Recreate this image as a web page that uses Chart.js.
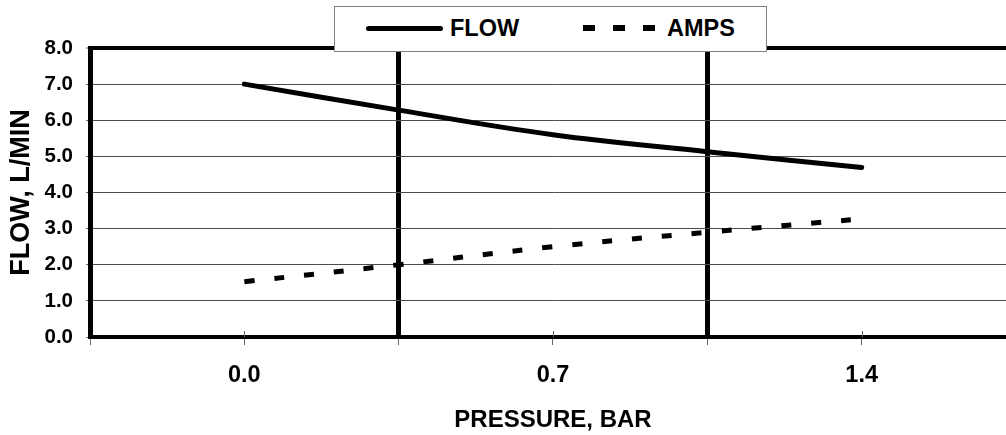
<!DOCTYPE html>
<html>
<head>
<meta charset="utf-8">
<script src="https://cdn.jsdelivr.net/npm/chart.js@4.4.1/dist/chart.umd.min.js"></script>
<style>
  html, body { margin: 0; padding: 0; background: #fff; overflow: hidden; width: 1006px; height: 435px; }
  #wrap { position: relative; width: 1040px; height: 435px; }
  #legend { position: absolute; left: 334px; top: 6px; width: 431px; height: 44px; border: 1px solid #808080; background: #fff; z-index: 2; font-family: "Liberation Sans", Arial, sans-serif; font-weight: bold; font-size: 23.5px; color: #000; }
  #legend .label { position: absolute; top: 0; line-height: 43px; white-space: nowrap; }
  #legend .solid { position: absolute; height: 5px; background: #000; border-radius: 3px; }
  #legend .dash { position: absolute; height: 6px; background: #000; }
</style>
</head>
<body>
<div id="wrap">
  <canvas id="c" width="1040" height="435"></canvas>
  <div id="legend"></div>
</div>
<script>
// ---- data ----
const pressure = [0.0, 0.35, 0.7, 1.05, 1.4];
const flow = [7.0, 6.28, 5.6, 5.13, 4.69];
const amps = [1.53, 2.0, 2.5, 2.9, 3.27];
const seriesNames = ['FLOW', 'AMPS'];
const xTickValues = [-0.35, 0.0, 0.35, 0.7, 1.05, 1.4];
const xTickLabels = ['', '0.0', '', '0.7', '', '1.4'];
const xBoundaryValues = [0.35, 1.05];
const yMin = 0, yMax = 8, yStep = 1;
const xTitle = 'PRESSURE, BAR';
const yTitle = 'FLOW, L/MIN';

const FONT = '"Liberation Sans", Arial, sans-serif';
const near = (a, b) => Math.abs(a - b) < 1e-6;
const isBoundary = v => xBoundaryValues.some(b => near(b, v));
const isLabelled = (v) => { const i = xTickValues.findIndex(t => near(t, v)); return i >= 0 && xTickLabels[i] !== ''; };

// crossing tick marks on labelled x ticks (inner half)
const crossTicks = {
  id: 'crossTicks',
  afterDatasetsDraw(chart) {
    const x = chart.scales.x, ctx = chart.ctx, b = chart.chartArea.bottom;
    ctx.save();
    ctx.strokeStyle = '#666';
    ctx.lineWidth = 1;
    x.ticks.forEach(t => {
      if (isLabelled(t.value)) {
        const px = Math.round(x.getPixelForValue(t.value)) + 0.5;
        ctx.beginPath(); ctx.moveTo(px, b - 6); ctx.lineTo(px, b); ctx.stroke();
      }
    });
    ctx.restore();
  }
};

const chart = new Chart(document.getElementById('c'), {
  type: 'line',
  data: {
    datasets: [
      {
        label: seriesNames[0],
        data: pressure.map((p, i) => ({ x: p, y: flow[i] })),
        borderColor: '#000', borderWidth: 5, borderCapStyle: 'round',
        pointRadius: 0, tension: 0.4, fill: false
      },
      {
        label: seriesNames[1],
        data: pressure.map((p, i) => ({ x: p, y: amps[i] })),
        borderColor: '#000', borderWidth: 5, borderDash: [10, 20], borderCapStyle: 'butt',
        pointRadius: 0, tension: 0.4, fill: false
      }
    ]
  },
  options: {
    responsive: false,
    animation: false,
    devicePixelRatio: 1,
    layout: { padding: { top: 48, left: 0, right: 24, bottom: 0 } },
    plugins: { legend: { display: false }, tooltip: { enabled: false } },
    scales: {
      x: {
        type: 'linear',
        min: xTickValues[0],
        max: 1.75,
        afterBuildTicks: s => { s.ticks = xTickValues.map(v => ({ value: v })); },
        afterFit: s => { s.height = 98; },
        ticks: {
          autoSkip: false, maxRotation: 0, padding: 16,
          color: '#000',
          font: { family: FONT, size: 23.5, weight: 'bold' },
          callback: (v, i) => xTickLabels[i]
        },
        grid: {
          color: c => (c.tick && isBoundary(c.tick.value)) ? '#000' : 'rgba(0,0,0,0)',
          lineWidth: c => (c.tick && isBoundary(c.tick.value)) ? 5 : 1,
          tickColor: '#666', tickWidth: 1, tickLength: 8
        },
        border: { display: true, color: '#000', width: 4 },
        title: {
          display: true, text: xTitle, color: '#000',
          font: { family: FONT, size: 24, weight: 'bold' },
          padding: { top: 0, bottom: 0 }
        }
      },
      y: {
        min: yMin, max: yMax,
        afterFit: s => { s.width = 90; },
        ticks: {
          stepSize: yStep, padding: 13, color: '#000',
          font: { family: FONT, size: 20.5, weight: 'bold' },
          callback: v => Number(v).toFixed(1)
        },
        grid: {
          color: c => (c.tick && near(c.tick.value, yMax)) ? '#000' : '#4d4d4d',
          lineWidth: c => (c.tick && near(c.tick.value, yMax)) ? 4 : 1,
          tickColor: '#666', tickWidth: 1, tickLength: 4
        },
        border: { display: true, color: '#000', width: 5 },
        title: {
          display: true, text: yTitle, color: '#000',
          font: { family: FONT, size: 27, weight: 'bold' },
          padding: { top: 5, bottom: 0 }
        }
      }
    }
  },
  plugins: [crossTicks]
});

// ---- HTML legend overlaying the plot top ----
(function buildLegend() {
  const lg = document.getElementById('legend');
  const s = document.createElement('div'); s.className = 'solid';
  s.style.left = '31px'; s.style.top = '19px'; s.style.width = '77px';
  lg.appendChild(s);
  const l0 = document.createElement('div'); l0.className = 'label';
  l0.style.left = '115px'; l0.textContent = chart.data.datasets[0].label;
  lg.appendChild(l0);
  [248, 278, 308].forEach(x => {
    const d = document.createElement('div'); d.className = 'dash';
    d.style.left = x + 'px'; d.style.top = '18px'; d.style.width = '12px';
    lg.appendChild(d);
  });
  const l1 = document.createElement('div'); l1.className = 'label';
  l1.style.left = '332px'; l1.textContent = chart.data.datasets[1].label;
  lg.appendChild(l1);
})();
</script>
</body>
</html>
